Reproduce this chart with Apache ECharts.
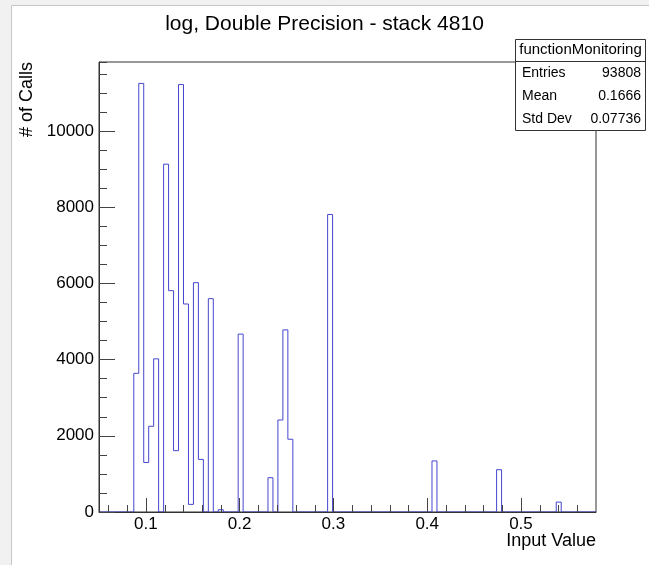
<!DOCTYPE html>
<html>
<head>
<meta charset="utf-8">
<script src="https://cdn.jsdelivr.net/npm/echarts@6/dist/echarts.min.js"></script>
<style>
html,body{margin:0;padding:0;background:#fff;}
#chart{width:649px;height:565px;}
</style>
</head>
<body>
<div id="chart"></div>
<script>
// ---- histogram binning ----
const X_MIN = 0.05;
const X_MAX = 0.58;
const N_BINS = 100;
// non-empty bins (bin index) and their counts
const binIndex  = [7, 8, 9, 10, 11, 13, 14, 15, 16, 17, 18, 19, 20, 22, 24, 28, 34, 36, 37, 38, 46, 67, 80, 92];
const binCounts = [3640, 11250, 1300, 2250, 4020, 9130, 5810, 1610, 11220, 5460, 200, 6020, 1380, 5600, 60, 4670, 900, 2415, 4780, 1910, 7810, 1340, 1110, 260];
// axis ticks
const Y_MAX = 11812;
const yMajorStep = 2000;
const yMinorStep = 500;
const xMajorStep = 0.1;
const xMinorTicks = [0.06, 0.08, 0.12, 0.14, 0.16, 0.18, 0.22, 0.24, 0.26, 0.28, 0.32, 0.34, 0.36, 0.38, 0.42, 0.44, 0.46, 0.48, 0.52, 0.54, 0.56];
// texts
const chartTitle = 'log, Double Precision - stack 4810';
const xTitle = 'Input Value';
const yTitle = '# of Calls';
const statsName = 'functionMonitoring';
const statsLabels = ['Entries', 'Mean', 'Std Dev'];
const statsValues = ['93808', '0.1666', '0.07736'];

// build full histogram
const counts = new Array(N_BINS).fill(0);
binIndex.forEach((b, i) => { counts[b] = binCounts[i]; });
const binW = (X_MAX - X_MIN) / N_BINS;
const histData = counts.map((c, k) => [X_MIN + k * binW, c]);
histData.push([X_MAX, counts[N_BINS - 1]]);

const FONT = 'Liberation Sans, Arial, Helvetica, sans-serif';
const LINE = '#333';
const TICK = '#444';

const chart = echarts.init(document.getElementById('chart'), null, {renderer: 'canvas'});

const statsGraphic = [];
const BX = 515.5, BY = 39.5, BW = 130, BH = 91;
statsGraphic.push({type: 'rect', shape: {x: BX, y: BY, width: BW, height: BH}, style: {fill: '#fff', stroke: LINE, lineWidth: 1}, z: 100});
statsGraphic.push({type: 'line', shape: {x1: BX, y1: 61.5, x2: BX + BW, y2: 61.5}, style: {stroke: LINE, lineWidth: 1}, z: 101});
statsGraphic.push({type: 'text', x: BX + BW / 2, y: 50, style: {text: statsName, font: '15px ' + FONT, fill: '#000', textAlign: 'center', textVerticalAlign: 'middle'}, z: 101});
statsLabels.forEach((lab, i) => {
  const yy = 73 + i * 23;
  statsGraphic.push({type: 'text', x: 522, y: yy, style: {text: lab, font: '14px ' + FONT, fill: '#000', textAlign: 'left', textVerticalAlign: 'middle'}, z: 101});
  statsGraphic.push({type: 'text', x: 641, y: yy, style: {text: statsValues[i], font: '14px ' + FONT, fill: '#000', textAlign: 'right', textVerticalAlign: 'middle'}, z: 101});
});

const option = {
  animation: false,
  backgroundColor: '#fff',
  title: {
    text: chartTitle,
    left: 'center',
    top: 14,
    padding: 0,
    textStyle: {fontFamily: FONT, fontSize: 21, fontWeight: 'normal', color: '#000'}
  },
  grid: {
    left: 99, top: 62, width: 497, height: 450,
    show: true, borderColor: LINE, borderWidth: 1, backgroundColor: 'transparent',
    containLabel: false, outerBoundsMode: 'none'
  },
  xAxis: [
    {
      type: 'value', position: 'bottom', min: X_MIN, max: X_MAX,
      splitNumber: 5, minInterval: xMajorStep, maxInterval: xMajorStep,
      z: 5,
      axisLine: {show: true, lineStyle: {color: LINE, width: 1}},
      axisTick: {show: true, inside: true, length: 14, lineStyle: {color: TICK, width: 1}},
      axisLabel: {show: true, margin: 4, showMinLabel: false, showMaxLabel: false, fontFamily: FONT, fontSize: 17, color: '#000', formatter: v => String(+v.toFixed(2))},
      splitLine: {show: false}
    }
  ],
  yAxis: [
    {
      type: 'value', position: 'left', min: 0, max: Y_MAX, interval: yMajorStep,
      z: 5,
      axisLine: {show: true, lineStyle: {color: LINE, width: 1}},
      axisTick: {show: true, inside: true, length: 16, lineStyle: {color: TICK, width: 1}},
      axisLabel: {show: true, margin: 5, showMaxLabel: false, fontFamily: FONT, fontSize: 17, color: '#000', formatter: v => String(v)},
      splitLine: {show: false}
    },
    {
      type: 'value', position: 'left', min: 0, max: Y_MAX, interval: yMinorStep,
      z: 5,
      axisLine: {show: false},
      axisTick: {show: true, inside: true, length: 8, lineStyle: {color: TICK, width: 1}},
      axisLabel: {show: false},
      splitLine: {show: false}
    }
  ],
  series: [
    {
      type: 'line',
      name: statsName,
      xAxisIndex: 0, yAxisIndex: 0,
      data: histData,
      step: 'end',
      showSymbol: false,
      symbol: 'none',
      silent: true,
      z: 2,
      lineStyle: {color: '#4646cf', width: 1},
      emphasis: {disabled: true}
    },
    {
      type: 'custom',
      name: 'x minor ticks',
      coordinateSystem: 'cartesian2d',
      xAxisIndex: 0, yAxisIndex: 0,
      data: xMinorTicks.map(v => [v, 0]),
      encode: {x: 0, y: 1},
      silent: true,
      clip: false,
      z: 6,
      renderItem: function (params, api) {
        const p = api.coord([api.value(0), api.value(1)]);
        const x = Math.round(p[0]) + 0.5;
        return {
          type: 'line',
          shape: {x1: x, y1: p[1], x2: x, y2: p[1] - 7},
          style: {stroke: TICK, lineWidth: 1}
        };
      }
    }
  ],
  graphic: [
    {type: 'rect', shape: {x: 0, y: 0, width: 11, height: 565}, style: {fill: '#f1f1f1'}, z: 0, silent: true},
    {type: 'rect', shape: {x: 0, y: 0, width: 649, height: 5}, style: {fill: '#f1f1f1'}, z: 0, silent: true},
    {type: 'polyline', shape: {points: [[11.5, 565], [11.5, 5.5], [649, 5.5]]}, style: {stroke: '#c6c6c6', fill: null, lineWidth: 1}, z: 0, silent: true},
    {type: 'text', x: 596, y: 541, style: {text: xTitle, font: '18px ' + FONT, fill: '#000', textAlign: 'right', textVerticalAlign: 'middle'}, z: 10},
    {type: 'text', x: 27, y: 62, rotation: Math.PI / 2, style: {text: yTitle, font: '18px ' + FONT, fill: '#000', textAlign: 'right', textVerticalAlign: 'middle'}, z: 10}
  ].concat(statsGraphic)
};
chart.setOption(option);
</script>
</body>
</html>
